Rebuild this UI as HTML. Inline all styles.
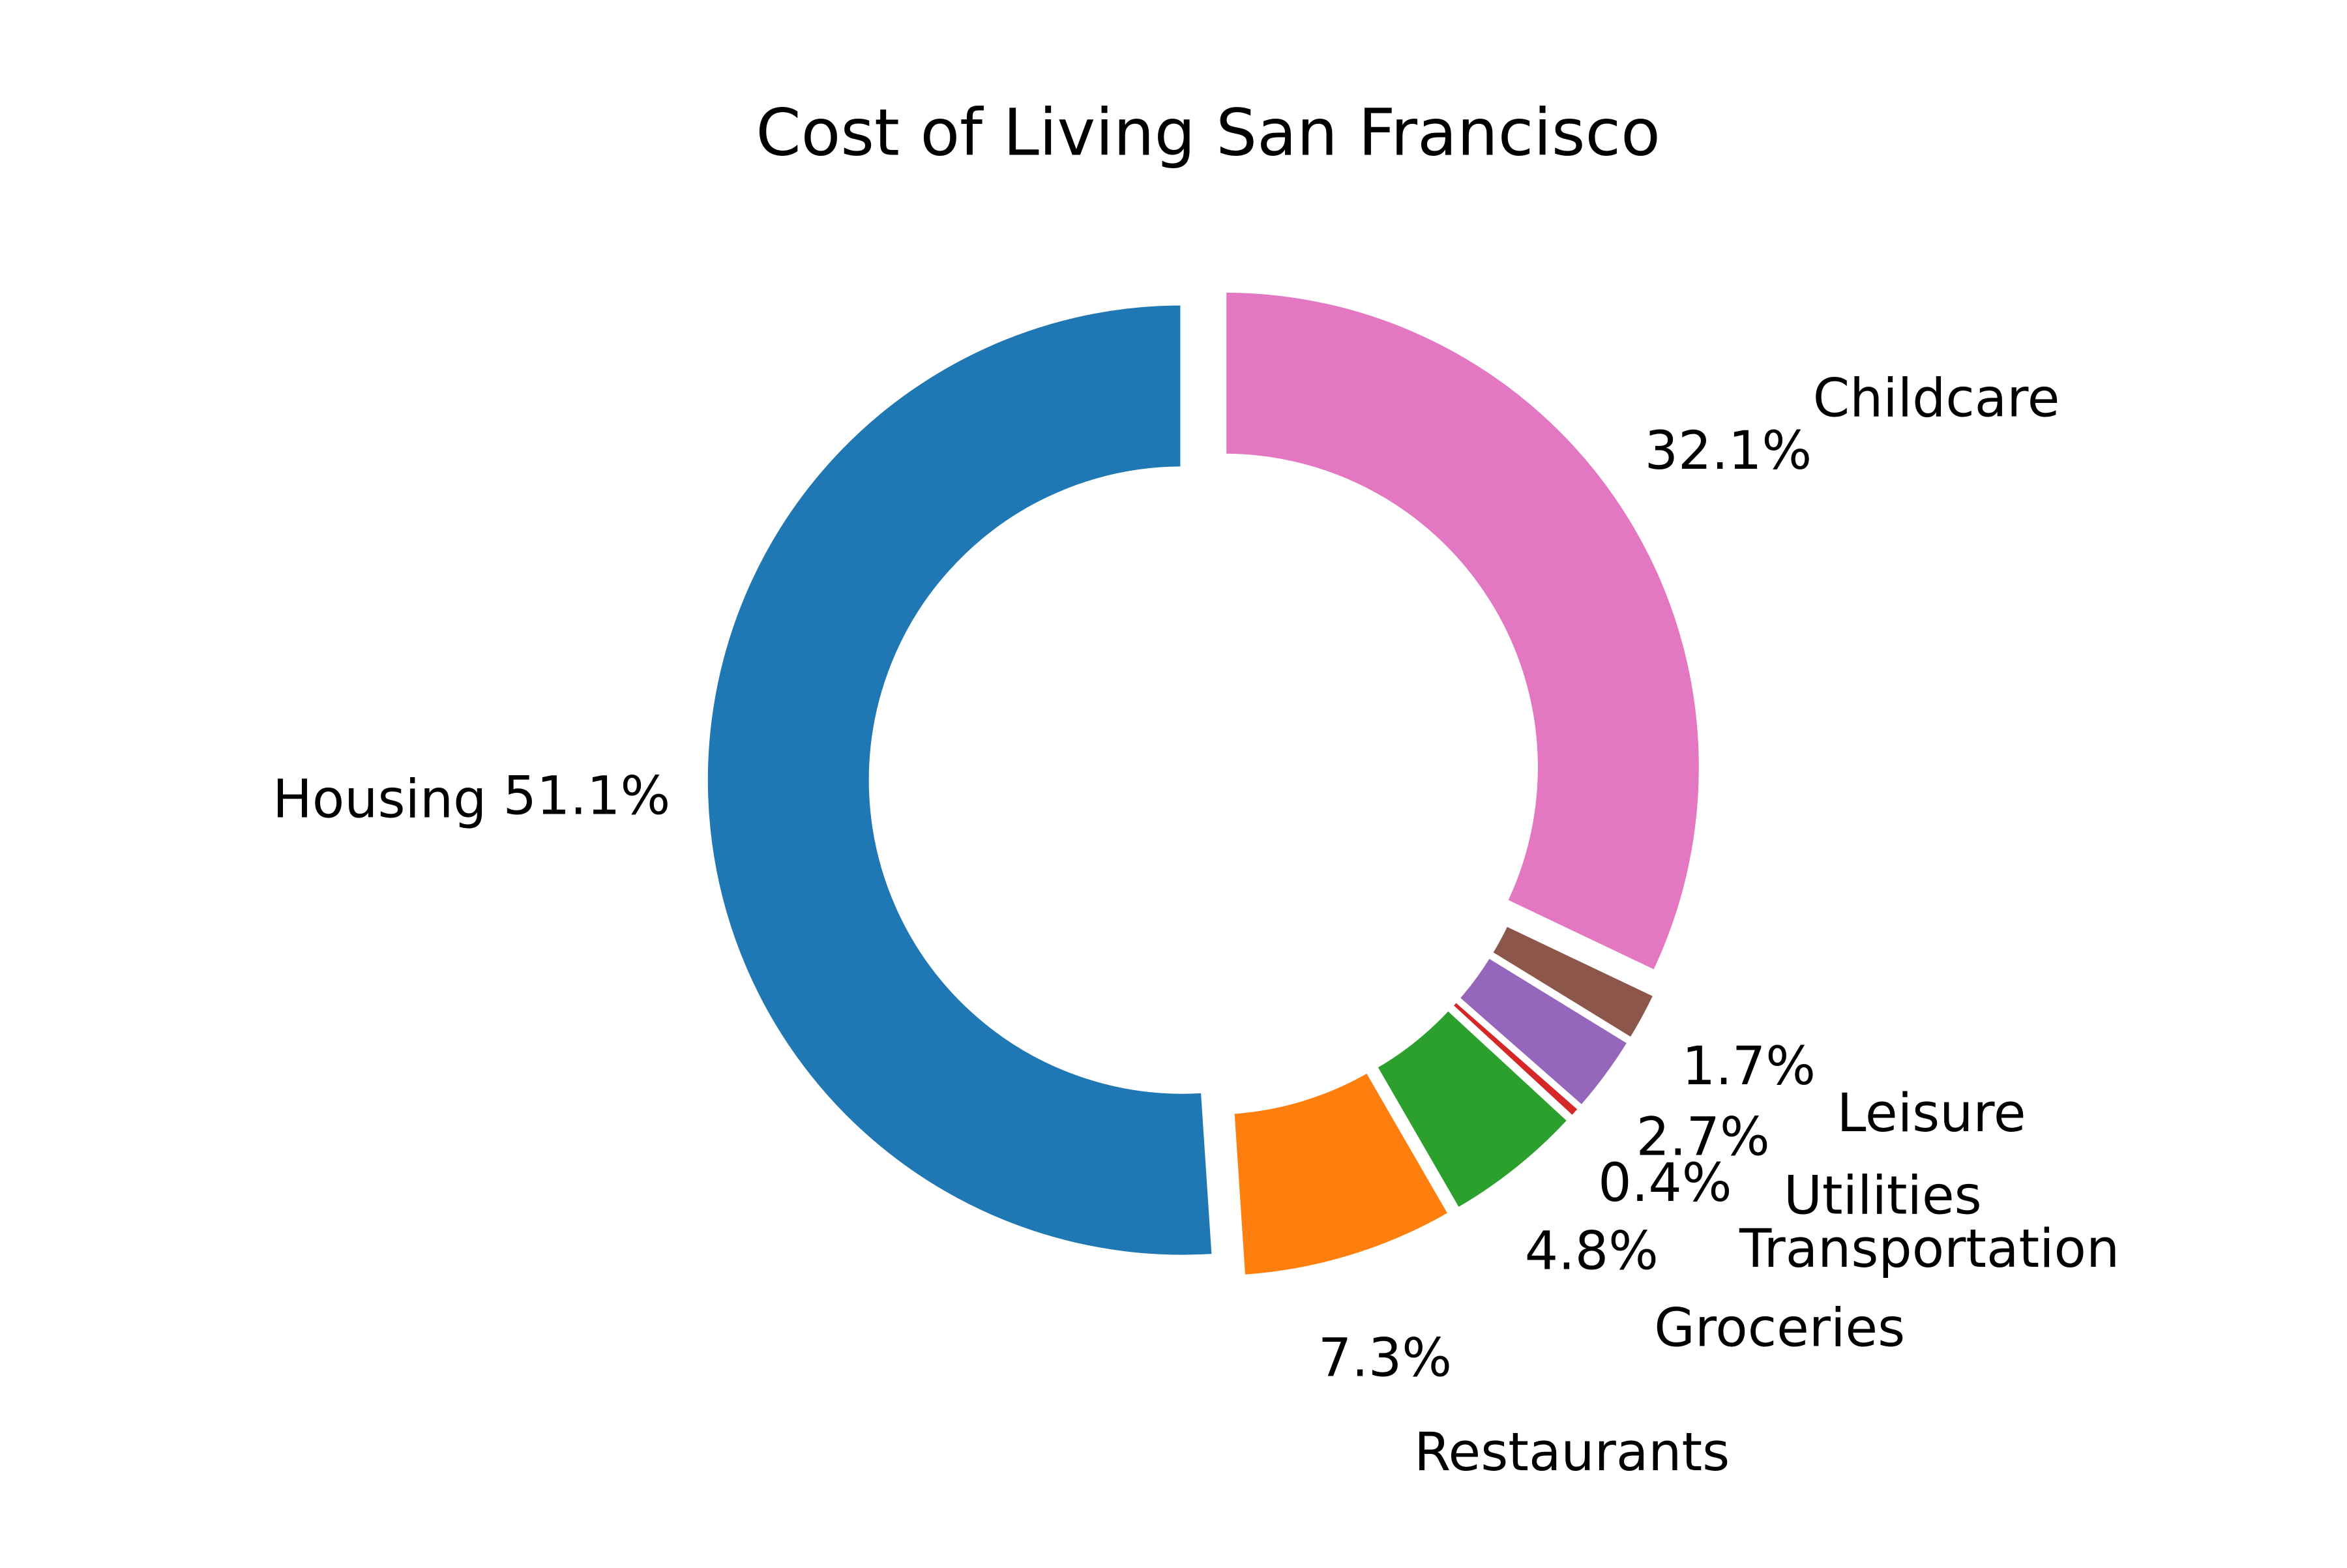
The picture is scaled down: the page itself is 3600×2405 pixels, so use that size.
<!DOCTYPE html>
<html><head><meta charset="utf-8"><style>html,body{margin:0;padding:0;background:#fff}</style></head>
<body>
<svg id="chart" width="3600" height="2400" viewBox="0 0 1560 1040" xmlns="http://www.w3.org/2000/svg" font-family="DejaVu Sans, Liberation Sans, sans-serif">
<rect width="1560" height="1040" fill="#fff"/>
<text x="803" y="103" font-size="43" text-anchor="middle">Cost of Living San Francisco</text>
<g id="slices"></g>
<g id="labels"></g>
</svg>
<script>
const categories = ["Housing","Restaurants","Groceries","Transportation","Utilities","Leisure","Childcare"];
const values = [51.1, 7.3, 4.8, 0.4, 2.7, 1.7, 32.1];
const pctLabels = ["51.1%","7.3%","4.8%","0.4%","2.7%","1.7%","32.1%"];
const colors = ["#1f77b4","#ff7f0e","#2ca02c","#d62728","#9467bd","#8c564b","#e377c2"];

const CX=801, CY=518, R=317, RI=207, EX=15, FS=35;
const NS="http://www.w3.org/2000/svg";
const total = values.reduce((a,b)=>a+b,0);
const sg=document.getElementById('slices'), lg=document.getElementById('labels');
function pt(cx,cy,r,a){const t=a*Math.PI/180;return [cx+r*Math.cos(t), cy-r*Math.sin(t)];}
function lpt(cx,cy,r,a){const t=a*Math.PI/180;return [cx+r*Math.cos(t), cy-3-0.983*r*Math.sin(t)];}
let start=90;
values.forEach((v,i)=>{
  const sweep=v/total*360, end=start+sweep, mid=(start+end)/2;
  const [ox,oy]=pt(0,0,EX,mid); const cx=CX+ox, cy=CY+oy;
  const large=sweep>180?1:0;
  const a=pt(cx,cy,R,start), b=pt(cx,cy,R,end), c=pt(cx,cy,RI,end), d=pt(cx,cy,RI,start);
  const p=document.createElementNS(NS,'path');
  p.setAttribute('d',`M${a[0]},${a[1]} A${R},${R} 0 ${large} 0 ${b[0]},${b[1]} L${c[0]},${c[1]} A${RI},${RI} 0 ${large} 1 ${d[0]},${d[1]} Z`);
  p.setAttribute('fill',colors[i]); p.setAttribute('stroke','#fff'); p.setAttribute('stroke-width','3');
  
  
  sg.appendChild(p);
  const pp=lpt(cx,cy,R*1.25,mid);
  const t1=document.createElementNS(NS,'text');
  t1.setAttribute('x',pp[0]); t1.setAttribute('y',pp[1]+FS*0.36);
  t1.setAttribute('font-size',FS); t1.setAttribute('text-anchor','middle');
  t1.textContent=pctLabels[i];
  
  
  lg.appendChild(t1);
  const lp=lpt(cx,cy,R*1.46,mid);
  const t2=document.createElementNS(NS,'text');
  t2.setAttribute('x',lp[0]); t2.setAttribute('y',lp[1]+FS*0.36);
  t2.setAttribute('font-size',FS); t2.setAttribute('text-anchor',Math.cos(mid*Math.PI/180)>=0?'start':'end');
  t2.textContent=categories[i];
  
  
  lg.appendChild(t2);
  start=end;
});
</script>
</body></html>
